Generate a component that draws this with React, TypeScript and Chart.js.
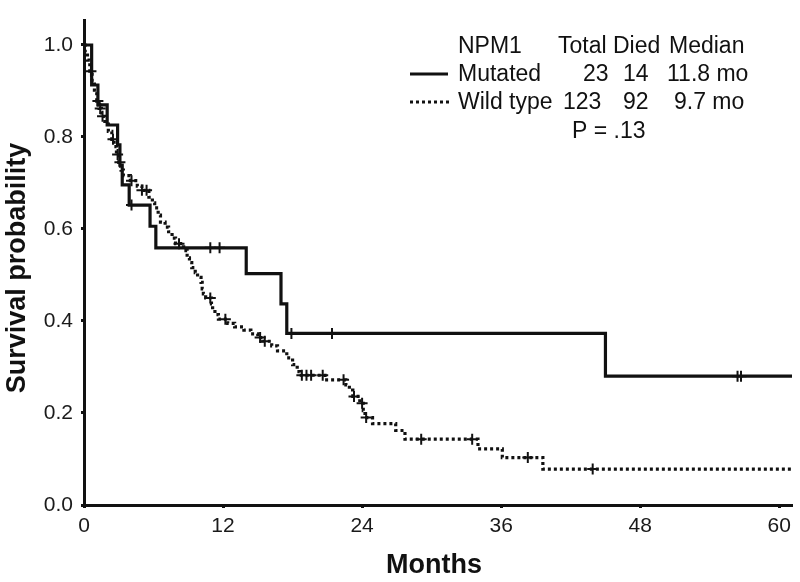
import React, { useEffect, useRef } from "react";
import { Chart, registerables } from "chart.js";

Chart.register(...registerables);

// ---- data ----
const xTicks = [0, 12, 24, 36, 48, 60];
const yTicks = [0, 0.2, 0.4, 0.6, 0.8, 1.0];

const mutatedTimes = [0, 0.66, 1.2, 2.0, 2.9, 3.1, 3.3, 3.9, 5.7, 6.2, 14.0, 17.0, 17.5, 45.0, 61.1];
const mutatedSurv = [1.0, 0.913, 0.87, 0.826, 0.783, 0.739, 0.696, 0.652, 0.606, 0.559, 0.503, 0.437, 0.373, 0.28, 0.28];
const mutatedCensorTimes = [4.1, 10.9, 11.7, 17.9, 21.4, 56.4, 56.7];

const wildTimes = [
  0, 0.1, 0.3, 0.5, 0.7, 0.9, 1.1, 1.3, 1.5, 1.8, 2.1, 2.4, 2.6, 2.8, 3.0, 3.2, 3.4,
  4.0, 4.6, 5.0, 5.6, 5.9, 6.1, 6.4, 6.6, 7.0, 7.3, 7.6, 7.9, 8.6, 8.9, 9.1, 9.3, 9.6,
  9.8, 10.1, 10.2, 10.3, 10.5, 11.0, 11.1, 11.3, 11.6, 12.4, 13.0, 13.8, 14.4, 15.0,
  15.4, 16.2, 16.7, 17.5, 18.0, 18.4, 18.6, 20.8, 22.6, 22.9, 23.2, 23.8, 24.1, 24.25,
  24.9, 26.9, 27.7, 34.0, 36.1, 39.6, 61.1,
];
const wildSurv = [
  1.0, 0.984, 0.967, 0.943, 0.919, 0.902, 0.878, 0.862, 0.845, 0.828, 0.812, 0.795, 0.779,
  0.762, 0.745, 0.728, 0.716, 0.705, 0.693, 0.684, 0.669, 0.657, 0.646, 0.63, 0.615, 0.604,
  0.594, 0.58, 0.568, 0.553, 0.537, 0.527, 0.516, 0.505, 0.495, 0.484, 0.47, 0.459, 0.45,
  0.437, 0.425, 0.414, 0.404, 0.395, 0.387, 0.38, 0.372, 0.364, 0.356, 0.346, 0.335, 0.32,
  0.305, 0.29, 0.282, 0.272, 0.261, 0.25, 0.236, 0.221, 0.205, 0.19, 0.177, 0.162, 0.143,
  0.122, 0.103, 0.078, 0.078,
];
const wildCensorTimes = [
  0.6, 1.2, 1.4, 1.6, 2.5, 2.9, 3.1, 4.1, 5.0, 5.4, 8.2, 10.9, 12.2, 15.2, 15.6, 18.8,
  19.2, 19.6, 20.6, 22.4, 23.3, 24.0, 24.35, 29.1, 33.5, 38.3, 43.9,
];

const legendHeader = ["NPM1", "Total", "Died", "Median"];
const legendMutated = ["Mutated", "23", "14", "11.8 mo"];
const legendWild = ["Wild type", "123", "92", "9.7 mo"];
const pValueText = "P = .13";
const xTitle = "Months";
const yTitle = "Survival probability";

// ---- helpers ----
function survivalAt(times: number[], surv: number[], t: number): number {
  let s = surv[0];
  for (let i = 0; i < times.length; i++) {
    if (times[i] <= t) s = surv[i];
  }
  return s;
}

function toPoints(times: number[], surv: number[]) {
  return times.map((t, i) => ({ x: t, y: surv[i] }));
}

function censorPoints(ct: number[], times: number[], surv: number[]) {
  return ct.map((t) => ({ x: t, y: survivalAt(times, surv, t) }));
}

const INK = "#111";
const FONT = '"Liberation Sans", Arial, Helvetica, sans-serif';

const annotationPlugin = {
  id: "kmAnnotations",
  afterDraw(chart: any) {
    const ctx = chart.ctx as CanvasRenderingContext2D;
    ctx.save();
    ctx.fillStyle = INK;
    ctx.textBaseline = "alphabetic";
    ctx.textAlign = "left";

    // legend text
    ctx.font = `23px ${FONT}`;
    const headX = [458, 558, 613, 669];
    headX.forEach((x, i) => ctx.fillText(legendHeader[i], x, 53));
    const mutX = [458, 583, 623, 667];
    mutX.forEach((x, i) => ctx.fillText(legendMutated[i], x, 81));
    const wildX = [458, 563, 623, 674];
    wildX.forEach((x, i) => ctx.fillText(legendWild[i], x, 109));
    ctx.fillText(pValueText, 572, 138);

    // legend line samples
    ctx.strokeStyle = INK;
    ctx.lineWidth = 3;
    ctx.setLineDash([]);
    ctx.beginPath();
    ctx.moveTo(410, 74);
    ctx.lineTo(448, 74);
    ctx.stroke();
    ctx.setLineDash([3, 3]);
    ctx.beginPath();
    ctx.moveTo(410, 102);
    ctx.lineTo(449, 102);
    ctx.stroke();
    ctx.setLineDash([]);

    // axis titles
    ctx.font = `bold 27px ${FONT}`;
    ctx.textAlign = "center";
    ctx.fillText(xTitle, 434, 573);
    ctx.translate(25, 268);
    ctx.rotate(-Math.PI / 2);
    ctx.fillText(yTitle, 0, 0);
    ctx.restore();
  },
};

export default function App() {
  const canvasRef = useRef<HTMLCanvasElement | null>(null);

  useEffect(() => {
    const canvas = canvasRef.current;
    if (!canvas) return;
    const censorStyle = {
      type: "scatter",
      showLine: false,
      pointStyle: "cross",
      pointRadius: 5.5,
      pointBorderWidth: 2,
      pointBorderColor: INK,
      pointBackgroundColor: INK,
      order: 0,
    };
    const chart = new Chart(canvas, {
      type: "line",
      data: {
        datasets: [
          {
            ...censorStyle,
            label: "Mutated censored",
            data: censorPoints(mutatedCensorTimes, mutatedTimes, mutatedSurv),
          },
          {
            ...censorStyle,
            label: "Wild type censored",
            data: censorPoints(wildCensorTimes, wildTimes, wildSurv),
          },
          {
            label: "Mutated",
            data: toPoints(mutatedTimes, mutatedSurv),
            stepped: "before",
            borderColor: INK,
            borderWidth: 3.2,
            pointRadius: 0,
            fill: false,
            order: 2,
          },
          {
            label: "Wild type",
            data: toPoints(wildTimes, wildSurv),
            stepped: "before",
            borderColor: INK,
            borderWidth: 3.2,
            borderDash: [3, 3],
            borderCapStyle: "butt",
            pointRadius: 0,
            fill: false,
            order: 1,
          },
        ],
      },
      options: {
        animation: false,
        responsive: false,
        devicePixelRatio: 1,
        layout: { padding: { top: 5, right: 8, left: 0, bottom: 0 } },
        plugins: {
          legend: { display: false },
          tooltip: { enabled: false },
        },
        scales: {
          x: {
            type: "linear",
            min: 0,
            max: 61.1,
            afterBuildTicks: (scale: any) => {
              scale.ticks = xTicks.map((v) => ({ value: v }));
            },
            afterFit: (scale: any) => {
              scale.height = 77;
            },
            ticks: {
              includeBounds: false,
              color: "#1a1a1a",
              font: { family: FONT, size: 21 },
              padding: 6,
              maxRotation: 0,
              callback: (v: any) => String(v),
            },
            grid: {
              display: true,
              drawOnChartArea: false,
              drawTicks: true,
              tickLength: 3,
              tickWidth: 3,
              tickColor: INK,
            },
            border: { display: true, color: INK, width: 3 },
          },
          y: {
            type: "linear",
            min: 0,
            max: 1.053,
            afterBuildTicks: (scale: any) => {
              scale.ticks = yTicks.map((v) => ({ value: v }));
            },
            afterFit: (scale: any) => {
              scale.width = 84;
            },
            ticks: {
              includeBounds: false,
              color: "#1a1a1a",
              font: { family: FONT, size: 21 },
              padding: 8,
              callback: (v: any) => Number(v).toFixed(1),
            },
            grid: {
              display: true,
              drawOnChartArea: false,
              drawTicks: true,
              tickLength: 3,
              tickWidth: 3,
              tickColor: INK,
            },
            border: { display: true, color: INK, width: 3 },
          },
        },
      },
      plugins: [annotationPlugin],
    } as any);
    return () => chart.destroy();
  }, []);

  return (
    <div style={{ position: "absolute", left: 0, top: 0, width: 800, height: 582, background: "#fff" }}>
      <canvas ref={canvasRef} width={800} height={582} style={{ display: "block" }} />
    </div>
  );
}
